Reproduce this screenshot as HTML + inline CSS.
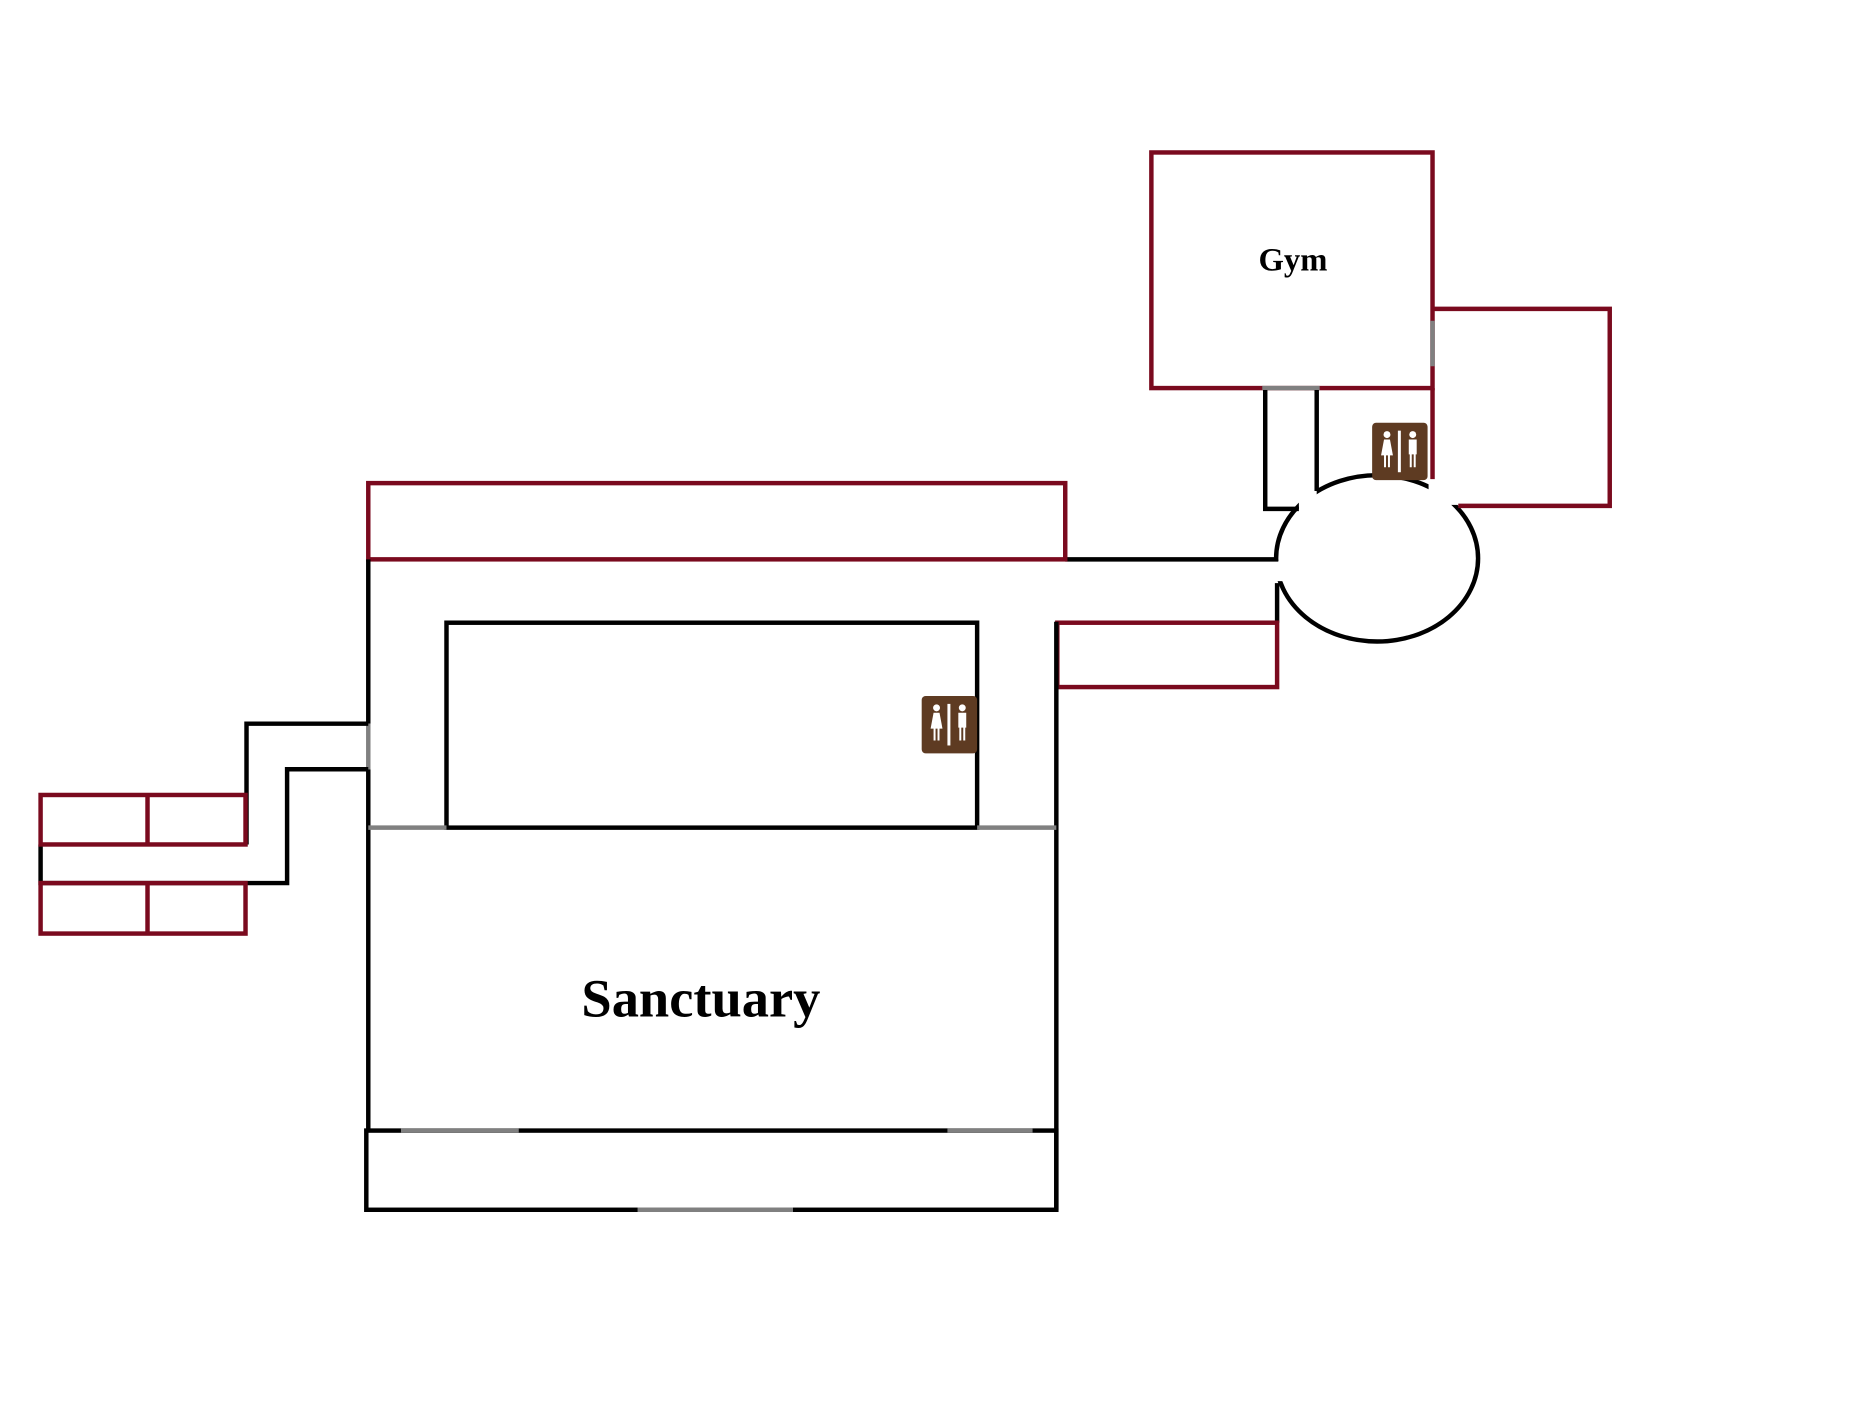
<!DOCTYPE html>
<html><head><meta charset="utf-8"><style>html,body{margin:0;padding:0;background:#fff}svg{display:block}</style></head>
<body>
<svg width="1850" height="1413" viewBox="0 0 1850 1413" xmlns="http://www.w3.org/2000/svg">
<defs>
<g id="rr">
<rect x="0" y="0" width="56" height="58" rx="4" fill="#5e3b22"/>
<rect x="26" y="8" width="3" height="42" fill="#fff"/>
<circle cx="15" cy="12" r="3.5" fill="#fff"/>
<path d="M12 17 H18 L21 33 H18 V45 H16 V33 H14 V45 H12 V33 H9 Z" fill="#fff"/>
<circle cx="41" cy="12" r="3.5" fill="#fff"/>
<path d="M37 17 H45 V32 H44 V45 H42 V32 H40 V45 H38 V32 H37 Z" fill="#fff"/>
</g>
</defs>
<g transform="scale(0.99)">
<g fill="none" stroke-width="4.5">
<ellipse cx="1391" cy="564" rx="102" ry="84" stroke="#000"/>
<rect x="1312" y="494" width="18" height="30" fill="#fff" stroke="none"/>
<rect x="1280" y="567" width="20" height="20" fill="#fff" stroke="none"/>
<rect x="1443" y="480" width="30" height="30" fill="#fff" stroke="none"/>

<rect x="1163" y="154" width="284" height="238" stroke="#7a0a1e"/>
<path d="M1447 312 H1626 V511 H1473" stroke="#7a0a1e"/>
<path d="M1447 392 V484" stroke="#7a0a1e"/>
<path d="M1447 324 V370" stroke="#808080"/>
<path d="M1275 392 H1333" stroke="#808080"/>
<path d="M1278 394 V514 H1312" stroke="#000"/>
<path d="M1330 394 V496" stroke="#000"/>

<path d="M1076 565 H1291" stroke="#000"/>
<path d="M1290 589 V629" stroke="#000"/>
<rect x="1068" y="629" width="222" height="65" stroke="#7a0a1e"/>

<rect x="372" y="488" width="704" height="77" stroke="#7a0a1e"/>

<path d="M372 565 V731" stroke="#000"/>
<path d="M372 777 V1142" stroke="#000"/>
<path d="M372 731 V777" stroke="#808080"/>
<path d="M1067 628 V1222" stroke="#000"/>
<rect x="451" y="629" width="536" height="207" stroke="#000"/>
<path d="M372 836 H451 M987 836 H1067" stroke="#808080"/>
<rect x="370" y="1142" width="697" height="80" stroke="#000"/>
<path d="M405 1142 H524 M957 1142 H1043 M644 1222 H801" stroke="#808080"/>

<path d="M372 731 H249 V853" stroke="#000"/>
<path d="M372 777 H290 V892 H41 V853" stroke="#000"/>
<rect x="41" y="803" width="207" height="50" stroke="#7a0a1e"/>
<path d="M149 803 V853" stroke="#7a0a1e"/>
<rect x="41" y="892" width="207" height="51" stroke="#7a0a1e"/>
<path d="M149 892 V943" stroke="#7a0a1e"/>
</g>

<use href="#rr" transform="translate(1386,427)"/>
<use href="#rr" transform="translate(931,703)"/>

<text x="1306" y="273" font-family="Liberation Serif, serif" font-weight="bold" font-size="33" text-anchor="middle">Gym</text>
<text x="708" y="1027" font-family="Liberation Serif, serif" font-weight="bold" font-size="55" text-anchor="middle">Sanctuary</text>
</g>
</svg>
</body></html>
